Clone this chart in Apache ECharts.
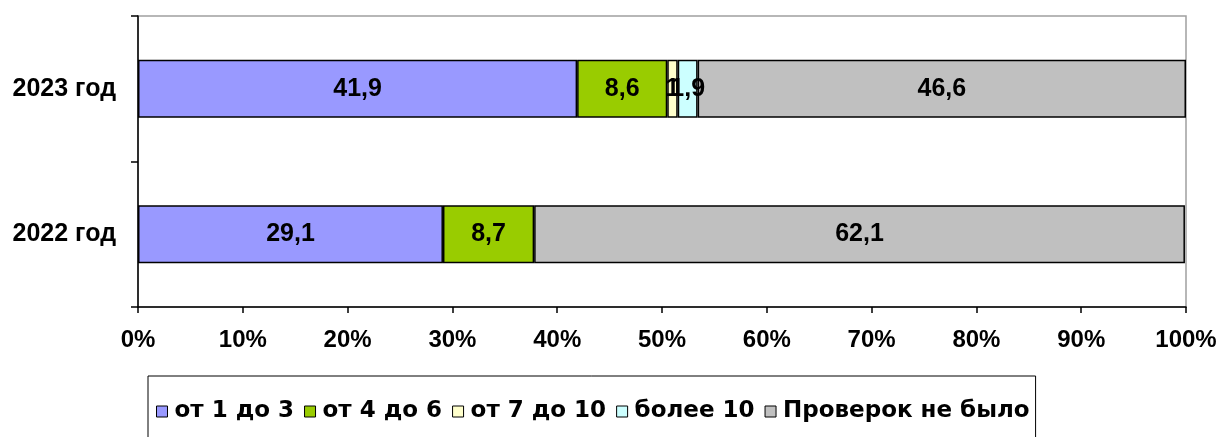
<!DOCTYPE html>
<html>
<head>
<meta charset="utf-8">
<script src="https://cdn.jsdelivr.net/npm/echarts@6/dist/echarts.min.js"></script>
<style>
  html, body { margin: 0; padding: 0; background: #fff; }
  #chart { width: 1223px; height: 437px; }
</style>
</head>
<body>
<div id="chart"></div>
<script>
// категории (снизу вверх)
var years = ["2022 год", "2023 год"];
var seriesNames = ["от 1 до 3", "от 4 до 6", "от 7 до 10", "более 10", "Проверок не было"];
var from1to3 = [29.1, 41.9];
var from4to6 = [8.7, 8.6];
var from7to10 = [null, 1];
var over10 = [null, 1.9];
var noChecks = [62.1, 46.6];
var colors = ["#9999FF", "#99CC00", "#FFFFCC", "#CCFFFF", "#C0C0C0"];

var chart = echarts.init(document.getElementById("chart"));
var font = "Liberation Sans, Arial, sans-serif";

function makeSeries(name, data, color) {
  return {
    name: name,
    type: "bar",
    stack: "total",
    data: data,
    barCategoryGap: "60%",
    itemStyle: { color: color, borderColor: "#000", borderWidth: 1.5 },
    label: {
      show: true,
      position: "inside",
      color: "#000",
      fontFamily: font,
      fontWeight: "bold",
      fontSize: 25,
      formatter: function (p) {
        if (p.value == null) return "";
        return String(p.value).replace(".", ",");
      }
    },
    emphasis: { disabled: true }
  };
}

chart.setOption({
  animation: false,
  grid: {
    left: 138, right: 37, top: 16, bottom: 130,
    show: true, borderColor: "#a0a0a0", borderWidth: 1.5
  },
  legend: {
    left: 148, top: 376,
    padding: [24, 6, 40, 8],
    borderColor: "#000", borderWidth: 1,
    itemWidth: 11, itemHeight: 11, itemGap: 10,
    icon: "rect",
    itemStyle: { borderColor: "#000", borderWidth: 1 },
    textStyle: { fontFamily: "DejaVu Sans", fontWeight: "bold", fontSize: 23, color: "#000", padding: [0, 0, 0, 2] },
    data: seriesNames
  },
  xAxis: {
    type: "value",
    min: 0, max: 100, interval: 10,
    splitLine: { show: false },
    axisLine: { show: true, lineStyle: { color: "#000", width: 1.5 } },
    axisTick: { show: true, length: 6, lineStyle: { color: "#000", width: 1.5 } },
    axisLabel: {
      margin: 21,
      fontFamily: font, fontWeight: "bold", fontSize: 24, color: "#000",
      formatter: "{value}%"
    }
  },
  yAxis: {
    type: "category",
    data: years,
    axisLine: { show: true, lineStyle: { color: "#000", width: 1.5 } },
    axisTick: { show: true, length: 7, lineStyle: { color: "#000", width: 1.5 } },
    axisLabel: {
      margin: 22,
      fontFamily: font, fontWeight: "bold", fontSize: 25, color: "#000"
    }
  },
  series: [
    makeSeries(seriesNames[0], from1to3, colors[0]),
    makeSeries(seriesNames[1], from4to6, colors[1]),
    makeSeries(seriesNames[2], from7to10, colors[2]),
    makeSeries(seriesNames[3], over10, colors[3]),
    makeSeries(seriesNames[4], noChecks, colors[4])
  ]
});
</script>
</body>
</html>
